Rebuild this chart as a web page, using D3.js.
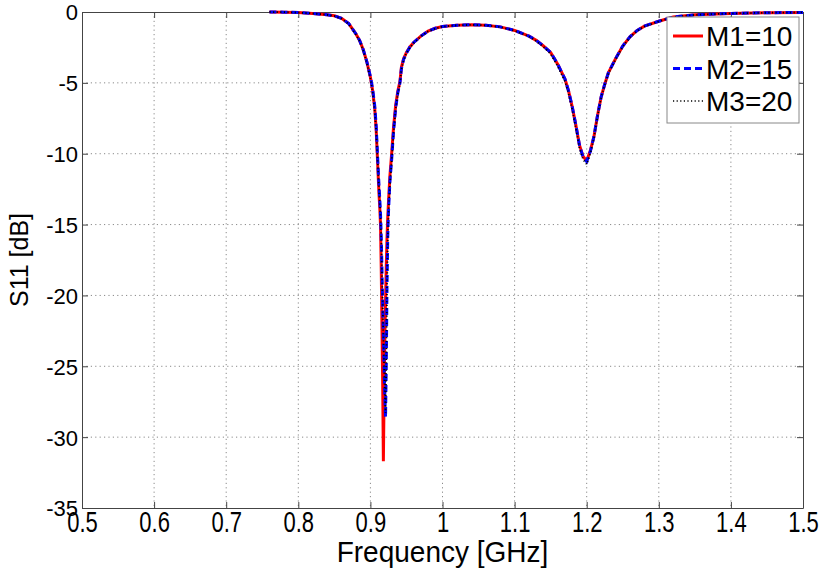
<!DOCTYPE html>
<html>
<head>
<meta charset="utf-8">
<script src="https://cdn.jsdelivr.net/npm/d3@7"></script>
<style>
  body { margin: 0; background: #fff; }
  svg { display: block; font-family: "Liberation Sans", Arial, sans-serif; }
</style>
</head>
<body>
<svg id="chart" width="827" height="569"></svg>
<script>
const freq = [0.76,0.78,0.80,0.82,0.84,0.85,0.86,0.87,0.88,0.885,0.89,0.895,0.90,0.903,0.906,0.908,0.910,0.911,0.912,0.913,0.914,0.915,0.916,0.917,0.918,0.919,0.920,0.921,0.922,0.923,0.924,0.925,0.927,0.9295,0.932,0.935,0.938,0.941,0.943,0.946,0.950,0.955,0.96,0.97,0.98,0.99,1.00,1.02,1.04,1.06,1.08,1.10,1.12,1.13,1.14,1.15,1.16,1.17,1.175,1.18,1.185,1.19,1.195,1.20,1.205,1.21,1.215,1.22,1.225,1.23,1.24,1.25,1.26,1.27,1.28,1.30,1.32,1.35,1.40,1.45,1.50];

const m1 = [0,-0.01,-0.04,-0.1,-0.2,-0.27,-0.45,-0.82,-1.55,-2.0,-2.65,-3.5,-4.6,-5.5,-6.8,-8.3,-10.6,-11.8,-12.9,-13.8,-15.0,-18.0,-22.0,-26.0,-31.7,-27.0,-23.0,-20.5,-18.0,-16.0,-14.6,-13.5,-11.6,-10.0,-8.2,-6.6,-5.6,-4.9,-3.9,-3.3,-2.85,-2.45,-2.15,-1.7,-1.35,-1.15,-1.02,-0.93,-0.9,-0.93,-1.05,-1.3,-1.7,-2.0,-2.4,-2.85,-3.7,-4.75,-5.6,-6.7,-8.0,-9.4,-10.2,-10.5,-9.8,-8.8,-7.3,-6.0,-5.1,-4.3,-3.3,-2.4,-1.75,-1.3,-1.0,-0.65,-0.35,-0.2,-0.1,-0.05,-0.03];

const m2 = [0,-0.01,-0.04,-0.1,-0.2,-0.27,-0.45,-0.82,-1.55,-2.0,-2.65,-3.5,-4.55,-5.4,-6.6,-8.0,-10.2,-11.3,-12.3,-13.2,-14.2,-15.8,-18.0,-20.5,-22.8,-25.0,-27.0,-28.6,-25.0,-19.5,-16.0,-14.2,-12.0,-10.4,-8.5,-6.8,-5.7,-5.0,-4.0,-3.35,-2.9,-2.45,-2.15,-1.7,-1.35,-1.15,-1.02,-0.93,-0.9,-0.93,-1.05,-1.3,-1.7,-2.0,-2.4,-2.85,-3.7,-4.75,-5.6,-6.7,-8.0,-9.4,-10.25,-10.55,-9.85,-8.8,-7.3,-6.0,-5.1,-4.3,-3.3,-2.4,-1.75,-1.3,-1.0,-0.65,-0.35,-0.2,-0.1,-0.05,-0.03];

const m3 = [0,-0.01,-0.04,-0.1,-0.2,-0.28,-0.47,-0.85,-1.6,-2.05,-2.7,-3.6,-4.7,-5.6,-7.0,-8.4,-10.5,-11.5,-12.5,-13.4,-14.4,-16.0,-18.2,-20.6,-22.9,-25.0,-26.9,-28.3,-25.0,-19.8,-16.2,-14.4,-12.2,-10.6,-8.6,-6.9,-5.8,-5.05,-4.05,-3.4,-2.9,-2.5,-2.2,-1.72,-1.37,-1.17,-1.03,-0.94,-0.91,-0.94,-1.06,-1.32,-1.72,-2.05,-2.45,-2.95,-3.85,-4.9,-5.8,-6.9,-8.2,-9.6,-10.4,-10.75,-10.0,-8.9,-7.4,-6.05,-5.15,-4.35,-3.35,-2.45,-1.78,-1.32,-1.02,-0.66,-0.36,-0.2,-0.1,-0.05,-0.03];

const seriesNames = ["M1=10", "M2=15", "M3=20"];
const xTicks = [0.5,0.6,0.7,0.8,0.9,1.0,1.1,1.2,1.3,1.4,1.5];
const yTicks = [0,-5,-10,-15,-20,-25,-30,-35];
const xTitle = "Frequency [GHz]";
const yTitle = "S11 [dB]";

const svg = d3.select("#chart");
const L = 82, R = 803, T = 12, B = 508;
const x = d3.scaleLinear().domain([0.5, 1.5]).range([L, R]);
const y = d3.scaleLinear().domain([-35, 0]).range([B, T]);

// grid
const grid = svg.append("g").attr("stroke", "#8a8a8a").attr("stroke-width", 1).attr("stroke-dasharray", "1.2,3.2");
xTicks.slice(1, -1).forEach(t => grid.append("line").attr("x1", x(t)).attr("x2", x(t)).attr("y1", T).attr("y2", B));
yTicks.slice(1, -1).forEach(t => grid.append("line").attr("x1", L).attr("x2", R).attr("y1", y(t)).attr("y2", y(t)));

// axes with inward ticks (MATLAB box style)
const fmtX = d => d === 1 ? "1" : d3.format(".1f")(d);
const fmtY = d => String(d);
const axB = svg.append("g").attr("transform", `translate(0,${B})`)
  .call(d3.axisBottom(x).tickValues(xTicks).tickSizeInner(-6).tickSizeOuter(0).tickFormat(fmtX));
const axT = svg.append("g").attr("transform", `translate(0,${T})`)
  .call(d3.axisTop(x).tickValues(xTicks).tickSizeInner(-6).tickSizeOuter(0).tickFormat(""));
const axL = svg.append("g").attr("transform", `translate(${L},0)`)
  .call(d3.axisLeft(y).tickValues(yTicks).tickSizeInner(-6).tickSizeOuter(0).tickFormat(fmtY));
const axR = svg.append("g").attr("transform", `translate(${R},0)`)
  .call(d3.axisRight(y).tickValues(yTicks).tickSizeInner(-6).tickSizeOuter(0).tickFormat(""));
[axB, axT, axL, axR].forEach(a => {
  a.select(".domain").attr("stroke", "#444");
  a.selectAll(".tick line").attr("stroke", "#444");
});
axB.selectAll(".tick text").attr("font-size", 22).attr("fill", "#000")
  .attr("y", 0).attr("dy", 0)
  .attr("transform", "translate(0,24) scale(1,1.3)");
axL.selectAll(".tick text").attr("font-size", 22).attr("fill", "#000").attr("x", -4).attr("dy", "0.36em");

// lines
const line = vals => d3.line().x((d, i) => x(freq[i])).y(d => y(d))(vals);
svg.append("path").attr("d", line(m1)).attr("fill", "none").attr("stroke", "#ff0000").attr("stroke-width", 3);
svg.append("path").attr("d", line(m2)).attr("fill", "none").attr("stroke", "#0000ff").attr("stroke-width", 3).attr("stroke-dasharray", "7,4");
svg.append("path").attr("d", line(m3)).attr("fill", "none").attr("stroke", "#000").attr("stroke-width", 1.8).attr("stroke-dasharray", "1.2,2.4");

// titles
svg.append("text").attr("x", x(1.0)).attr("y", 0).attr("text-anchor", "middle")
  .attr("font-size", 28).attr("fill", "#000")
  .attr("transform", `translate(0,562) scale(1,1.06)`)
  .text(xTitle);
svg.append("text").attr("text-anchor", "middle").attr("font-size", 25).attr("fill", "#000")
  .attr("transform", `translate(28,${(T + B) / 2}) rotate(-90)`)
  .text(yTitle);

// legend
const lg = svg.append("g");
lg.append("rect").attr("x", 667).attr("y", 17).attr("width", 132).attr("height", 106)
  .attr("fill", "#fff").attr("stroke", "#888").attr("stroke-width", 1);
const styles = [
  {stroke: "#ff0000", w: 3, dash: null},
  {stroke: "#0000ff", w: 3, dash: "7,4"},
  {stroke: "#000", w: 1.6, dash: "1.2,2.4"}
];
seriesNames.forEach((n, i) => {
  const yy = 36 + i * 32.5;
  lg.append("line").attr("x1", 673).attr("x2", 703).attr("y1", yy).attr("y2", yy)
    .attr("stroke", styles[i].stroke).attr("stroke-width", styles[i].w)
    .attr("stroke-dasharray", styles[i].dash);
  lg.append("text").attr("x", 706).attr("y", yy).attr("dy", "0.36em")
    .attr("font-size", 28).attr("fill", "#000").text(n);
});
</script>
</body>
</html>
